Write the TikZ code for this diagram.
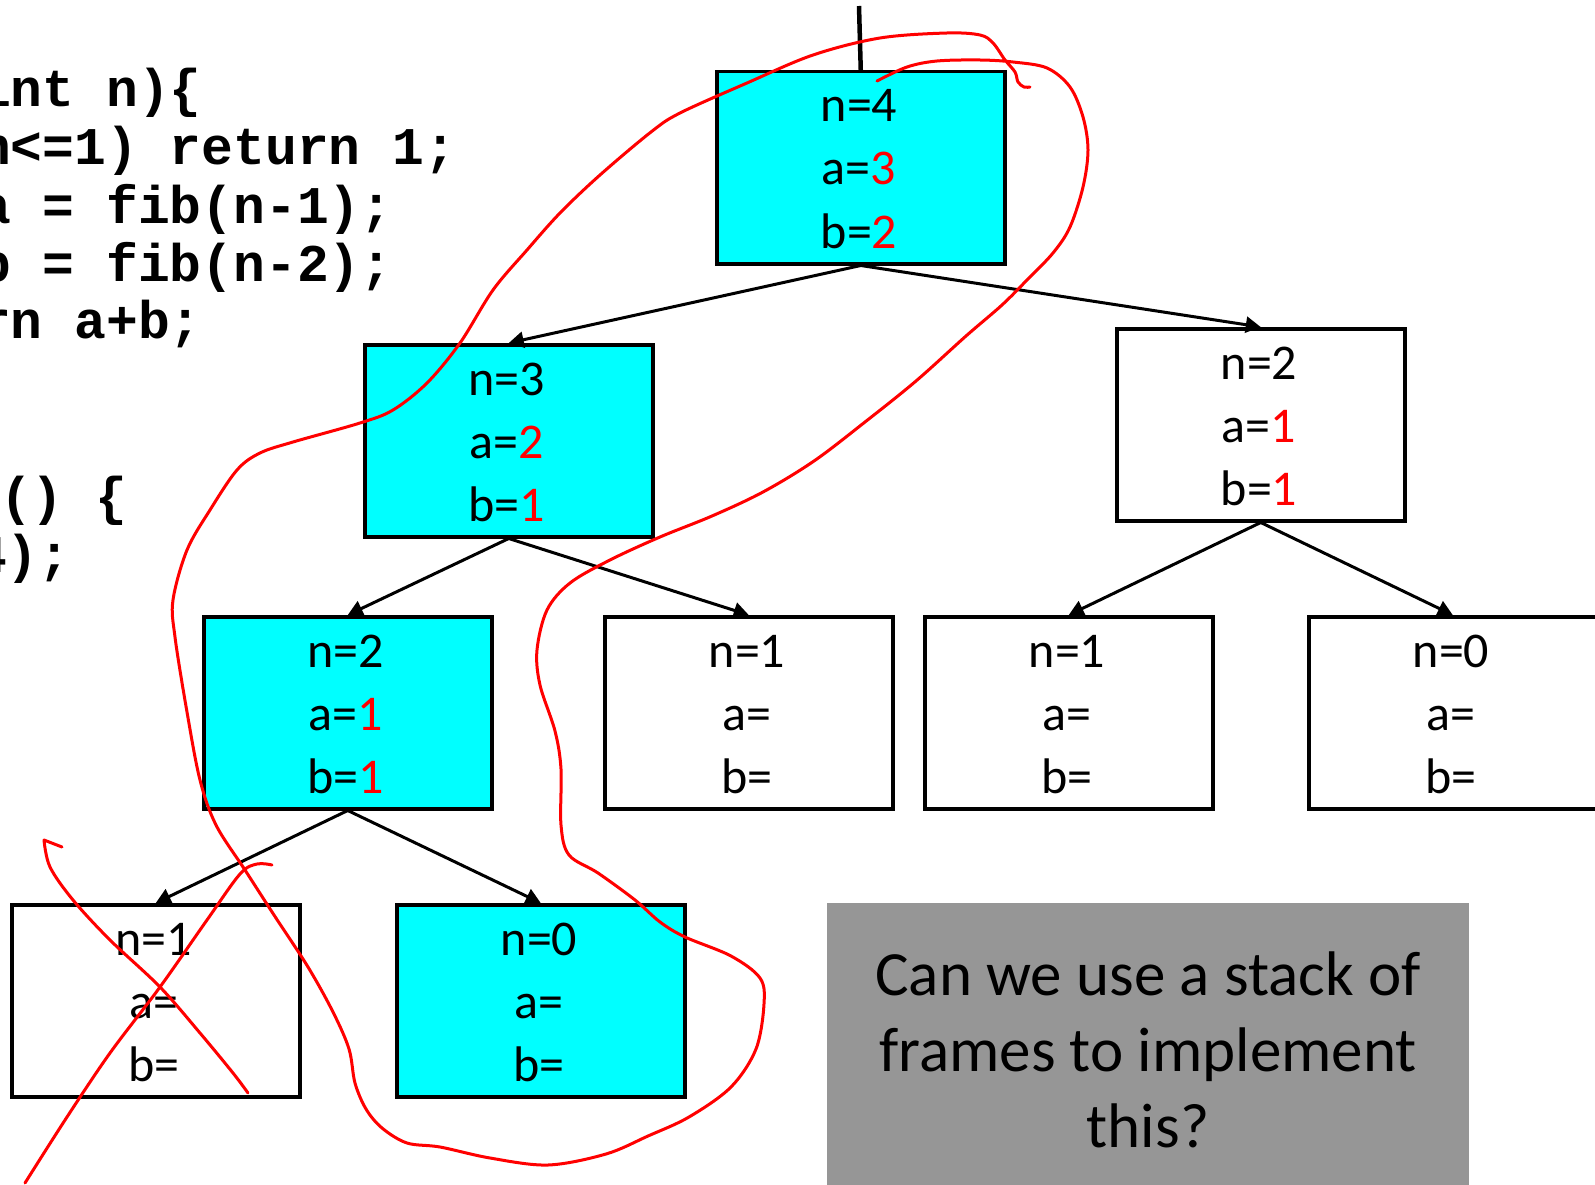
\documentclass[tikz,border=0pt]{standalone}
\usepackage{fontspec}
\setmainfont{Carlito}
\newfontfamily\codefont{Liberation Mono}
\usetikzlibrary{arrows.meta}
\definecolor{framecyan}{RGB}{0,255,255}
\definecolor{panelgray}{RGB}{150,150,150}
\definecolor{inkred}{RGB}{255,0,0}
\tikzset{
 callbox/.style={draw=black, line width=3.5pt, minimum width=288pt, minimum height=192pt, inner sep=0pt, anchor=north west},
 slot/.style={anchor=base, inner sep=0pt, font=\fontsize{50}{60}\selectfont},
 callarrow/.style={line width=3pt, -{Triangle[length=15pt,width=16pt]}},
 srcline/.style={anchor=base west, inner sep=0pt, font=\codefont\bfseries\fontsize{53}{58}\selectfont},
 qline/.style={anchor=base, inner sep=0pt, font=\fontsize{63}{76}\selectfont},
 panel/.style={fill=panelgray, draw=none, minimum width=642pt, minimum height=282pt, inner sep=0pt, anchor=north west},
 redpen/.style={draw=inkred, line width=3pt, line cap=round, line join=round},
}
\newcommand\callframe[7]{%
  \node[callbox, fill=#4] (#1) at (#2,#3) {};
  \node[slot] (#1n) at ({#2+144},{#3+52}) {n=#5};
  \node[slot] (#1a) at ({#2+144},{#3+115}) {a=#6};
  \node[slot] (#1b) at ({#2+144},{#3+178}) {b=#7};
}
\newcommand\rv[1]{\textcolor{inkred}{#1}}
\begin{document}
\begin{tikzpicture}[x=1pt,y=-1pt]
\useasboundingbox (0,0) rectangle (1595,1185);
\fill[white] (0,0) rectangle (1595,1185);

% code fragments
\node[srcline] (c1) at (-21,107) {int n)\{};
\node[srcline] (c2) at (-21,165) {n<=1) return 1;};
\node[srcline] (c3) at (-21,223) {a = fib(n-1);};
\node[srcline] (c4) at (-21,281) {b = fib(n-2);};
\node[srcline] (c5) at (-21,338) {rn a+b;};
\node[srcline] (c6) at (0,514) {() \{};
\node[srcline] (c7) at (-25,572) {4);};

% frames
\callframe{f4}{715}{70}{framecyan}{4}{\rv{3}}{\rv{2}}
\callframe{f3}{363}{343}{framecyan}{3}{\rv{2}}{\rv{1}}
\callframe{f2r}{1115}{327}{white}{2}{\rv{1}}{\rv{1}}
\callframe{f2}{202}{615}{framecyan}{2}{\rv{1}}{\rv{1}}
\callframe{f1m}{603}{615}{white}{1}{}{}
\callframe{f1r}{923}{615}{white}{1}{}{}
\callframe{f0r}{1307}{615}{white}{0}{}{}
\callframe{f1b}{10}{903}{white}{1}{}{}
\callframe{f0b}{395}{903}{framecyan}{0}{}{}

% question panel
\node[panel] (qbox) at (827,903) {};
\node[qline] (q1) at (1148,995) {Can we use a stack of};
\node[qline] (q2) at (1148,1071) {frames to implement};
\node[qline] (q3) at (1148,1147) {this?};

% connectors
\coordinate (entry) at (859,6);
\draw[line width=4.5pt] (entry) -- (f4.north);
\draw[callarrow] (f4.south) -- (f3.north);
\draw[callarrow] (f4.south) -- (f2r.north);
\draw[callarrow] (f3.south) -- (f2.north);
\draw[callarrow] (f3.south) -- (f1m.north);
\draw[callarrow] (f2r.south) -- (f1r.north);
\draw[callarrow] (f2r.south) -- (f0r.north);
\draw[callarrow] (f2.south) -- (f1b.north);
\draw[callarrow] (f2.south) -- (f0b.north);

% red annotations
\draw[redpen] plot[smooth, tension=0.55] coordinates {(877,81) (907,67) (937,61) (980,60) (1013,62) (1047,68) (1070,87) (1083,117) (1088,150) (1083,187) (1070,227) (1053,253) (1027,280) (1002,305) (966,336) (916,381) (865,422) (814,461) (763,492) (712,516) (660,537) (610,560) (570,583) (547,610) (537,650) (540,685) (555,731) (561,769) (561,825) (569,855) (598,873) (635,900) (660,922) (685,937) (731,956) (760,978) (764,1004) (756,1049) (731,1087) (689,1117) (648,1136) (606,1154) (548,1165) (490,1158) (440,1147) (407,1143) (382,1128) (366,1109) (355,1083) (349,1049) (333,1012) (308,967) (274,915) (245,870) (216,825) (200,780) (187,712) (175,637) (173,600) (187,550) (210,510) (237,470) (260,453) (293,442) (360,423) (393,410) (427,383) (460,343) (493,290) (527,250) (560,213) (600,175) (651,132) (680,113) (747,83) (813,55) (880,38) (947,33) (980,35) (993,43) (1005,60) (1015,72) (1018,82) (1024,87) (1030,87)};
\draw[redpen] (62,847) -- (44,840) plot[smooth, tension=0.55] coordinates {(44,840) (50,867) (73,900) (110,940) (160,987) (200,1033) (233,1073) (248,1093)};
\draw[redpen] plot[smooth, tension=0.55] coordinates {(25,1183) (67,1117) (110,1053) (160,987) (207,920) (240,874) (257,864) (272,865)};
\end{tikzpicture}
\end{document}
